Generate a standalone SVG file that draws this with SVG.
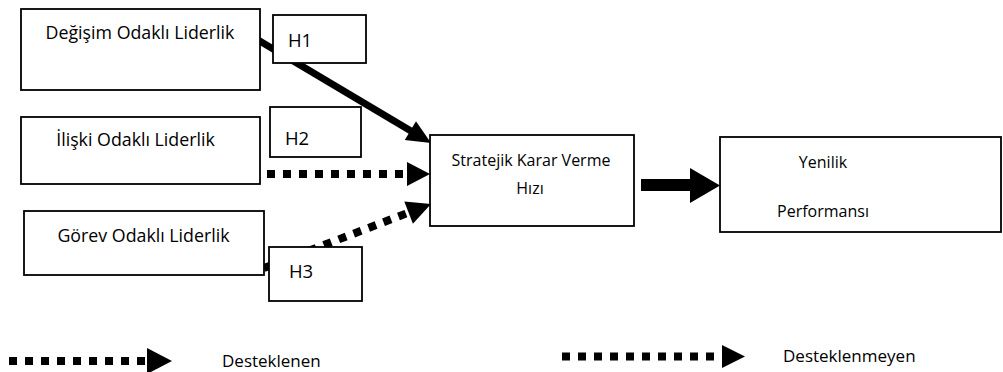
<svg xmlns="http://www.w3.org/2000/svg" width="1003" height="372" viewBox="0 0 1003 372">
  <defs>
    <style>
      .box { fill: #ffffff; stroke: #000000; stroke-width: 1.8; }
      .lbl { font-family: "Open Sans", "Liberation Sans", sans-serif; font-size: 16px; fill: #000000; text-anchor: middle; }
      .big { font-size: 17.8px; }
      .hyp { font-size: 18.5px; }
      .leg { font-family: "Open Sans", "Liberation Sans", sans-serif; font-size: 17px; fill: #000000; }
      .solid { stroke: #000000; stroke-width: 7; fill: none; }
      .dots { stroke: #000000; stroke-width: 8; stroke-dasharray: 8 8; fill: none; }
      .head { fill: #000000; stroke: none; }
    </style>
  </defs>
  <rect width="1003" height="372" fill="#ffffff"/>

  <!-- connectors -->
  <g id="connectors">
    <!-- H1: change-oriented leadership -> decision speed -->
    <line class="solid" x1="258" y1="40" x2="411" y2="131"/>
    <polygon class="head" points="431,143 404.8,140.1 416,121.2"/>
    <!-- H2: relation-oriented leadership -> decision speed -->
    <line class="dots" x1="267" y1="174" x2="407" y2="174"/>
    <polygon class="head" points="430,174 407,162 407,186"/>
    <!-- H3: task-oriented leadership -> decision speed -->
    <line class="dots" x1="264" y1="268" x2="408.6" y2="212.6"/>
    <polygon class="head" points="431,204 412.9,223.8 404.3,201.4"/>
    <!-- decision speed -> innovation performance -->
    <polygon class="head" points="641,179 690,179 690,168 720,185.5 690,203 690,191 641,191"/>
  </g>

  <g id="node-degisim">
    <rect class="box" x="21" y="9" width="239" height="81"/>
    <text class="lbl big" x="140" y="39">Değişim Odaklı Liderlik</text>
  </g>
  <g id="node-iliski">
    <rect class="box" x="21" y="117" width="239" height="67"/>
    <text class="lbl big" x="135.5" y="146">İlişki Odaklı Liderlik</text>
  </g>
  <g id="node-gorev">
    <rect class="box" x="24" y="211" width="240" height="64"/>
    <text class="lbl big" x="143.5" y="242">Görev Odaklı Liderlik</text>
  </g>

  <g id="label-h1">
    <rect class="box" x="273" y="15" width="93" height="48"/>
    <text class="lbl hyp" x="300" y="47">H1</text>
  </g>
  <g id="label-h2">
    <rect class="box" x="270" y="107" width="91" height="50"/>
    <text class="lbl hyp" x="297" y="145">H2</text>
  </g>
  <g id="label-h3">
    <rect class="box" x="269" y="247" width="93" height="54"/>
    <text class="lbl hyp" x="301" y="278">H3</text>
  </g>

  <g id="node-stratejik">
    <rect class="box" x="430" y="135" width="204" height="91"/>
    <text class="lbl" x="531" y="166">Stratejik Karar Verme</text>
    <text class="lbl" x="530" y="194">Hızı</text>
  </g>
  <g id="node-yenilik">
    <rect class="box" x="720" y="137" width="281" height="95"/>
    <text class="lbl" x="823" y="168">Yenilik</text>
    <text class="lbl" x="823" y="217">Performansı</text>
  </g>

  <!-- legend -->
  <g id="legend">
    <line class="dots" x1="9" y1="361" x2="148" y2="361"/>
    <polygon class="head" points="147,348 172,361 147,374"/>
    <text class="leg" x="222" y="367">Desteklenen</text>
    <line class="dots" x1="562" y1="356.5" x2="722" y2="356.5"/>
    <polygon class="head" points="722,345 745,356.5 722,368"/>
    <text class="leg" x="783" y="362">Desteklenmeyen</text>
  </g>
</svg>
